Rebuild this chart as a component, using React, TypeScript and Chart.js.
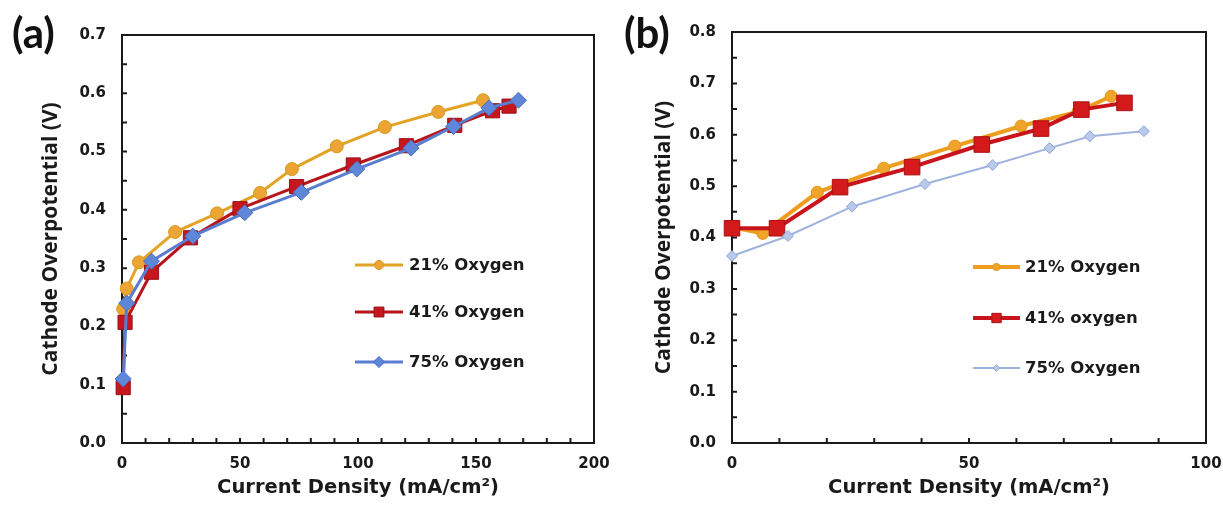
import React, { useEffect, useRef } from 'react';
import { Chart, registerables } from 'chart.js';
import { drawPoint } from 'chart.js/helpers';

Chart.register(...registerables);

// ---------- Panel (a) data ----------
const aXMax = 200;
const aYMax = 0.7;
const a21X = [0.5, 2, 7.2, 22.5, 40.3, 58.5, 72, 91, 111.4, 134, 153];
const a21Y = [0.23, 0.265, 0.31, 0.362, 0.394, 0.429, 0.47, 0.509, 0.542, 0.568, 0.588];
const a41X = [0.5, 1.3, 12.5, 29, 50, 74, 98, 120.5, 141, 157, 164];
const a41Y = [0.095, 0.207, 0.293, 0.352, 0.402, 0.44, 0.477, 0.51, 0.545, 0.57, 0.578];
const a75X = [0.5, 2, 12.5, 30, 52, 76, 99.5, 122.5, 140.5, 155.5, 168];
const a75Y = [0.11, 0.24, 0.312, 0.355, 0.395, 0.43, 0.47, 0.506, 0.543, 0.575, 0.588];
const aLabels = ['21% Oxygen', '41% Oxygen', '75% Oxygen'];

// ---------- Panel (b) data ----------
const bXMax = 100;
const bYMax = 0.8;
const b21X = [0, 6.5, 18, 32, 47, 61, 73, 80];
const b21Y = [0.42, 0.408, 0.488, 0.535, 0.578, 0.617, 0.645, 0.675];
const b41X = [0, 9.5, 22.8, 38, 52.7, 65.2, 73.7, 82.8];
const b41Y = [0.418, 0.418, 0.498, 0.537, 0.581, 0.612, 0.649, 0.662];
const b75X = [0, 11.8, 25.3, 40.7, 55, 67, 75.5, 86.9];
const b75Y = [0.364, 0.403, 0.46, 0.504, 0.541, 0.574, 0.597, 0.607];
const bLabels = ['21% Oxygen', '41% oxygen', '75% Oxygen'];

const xTitle = 'Current Density (mA/cm²)';
const yTitle = 'Cathode Overpotential (V)';

const TICK_FONT = { family: '"DejaVu Sans", sans-serif', size: 15, weight: 'bold' as const };
const XTITLE_FONT = { family: '"DejaVu Sans", sans-serif', size: 19.5, weight: 'bold' as const };
const YTITLE_FONT = { family: '"Open Sans", sans-serif', size: 21, weight: 'bold' as const };
const INK = '#1a1a1a';

const frameTicks = {
  id: 'frameTicks',
  beforeDatasetsDraw(chart: any) {
    const { ctx, chartArea: a, scales } = chart;
    ctx.save();
    ctx.strokeStyle = INK;
    ctx.lineWidth = 2;
    ctx.strokeRect(a.left, a.top, a.right - a.left, a.bottom - a.top);
    ctx.lineWidth = 2;
    ctx.beginPath();
    scales.x.ticks.forEach((t: any) => {
      const px = scales.x.getPixelForValue(t.value);
      if (px <= a.left + 1 || px >= a.right - 1) return;
      ctx.moveTo(px, a.bottom);
      ctx.lineTo(px, a.bottom - 5);
    });
    scales.y.ticks.forEach((t: any) => {
      const py = scales.y.getPixelForValue(t.value);
      if (py >= a.bottom - 1 || py <= a.top + 1) return;
      ctx.moveTo(a.left, py);
      ctx.lineTo(a.left + 5, py);
    });
    ctx.stroke();
    ctx.restore();
  },
};

const customLegend = {
  id: 'customLegend',
  afterDraw(chart: any, _args: any, opts: any) {
    const { ctx } = chart;
    ctx.save();
    chart.data.datasets.forEach((ds: any, i: number) => {
      const y = opts.ys[i];
      ctx.strokeStyle = ds.borderColor;
      ctx.lineWidth = ds.borderWidth;
      ctx.beginPath();
      ctx.moveTo(opts.x1, y);
      ctx.lineTo(opts.x2, y);
      ctx.stroke();
      ctx.fillStyle = ds.pointBackgroundColor;
      ctx.strokeStyle = ds.pointBorderColor;
      ctx.lineWidth = 1;
      drawPoint(ctx, { pointStyle: ds.pointStyle, radius: ds.pointRadius * opts.scale, borderWidth: 1, rotation: 0 } as any, (opts.x1 + opts.x2) / 2, y);
      ctx.fillStyle = INK;
      ctx.font = 'bold 16.5px "DejaVu Sans", sans-serif';
      ctx.textBaseline = 'middle';
      ctx.textAlign = 'left';
      ctx.fillText(ds.label, opts.textX, y + 1);
    });
    ctx.restore();
  },
};

type Series = {
  label: string; x: number[]; y: number[]; line: string; fill: string; pb: string;
  lw: number; style: string; r: number; order: number;
};

type Panel = {
  series: Series[]; xMax: number; yMax: number; top: number; right: number; yWidth: number;
  yTitlePad: number; legend: any;
};

function build(canvas: HTMLCanvasElement, p: Panel) {
  const datasets = p.series.map((s) => ({
    label: s.label,
    data: s.x.map((x, j) => ({ x, y: s.y[j] })),
    borderColor: s.line,
    backgroundColor: s.fill,
    borderWidth: s.lw,
    pointStyle: s.style,
    pointRadius: s.r,
    pointBackgroundColor: s.fill,
    pointBorderColor: s.pb,
    pointBorderWidth: 1,
    tension: 0,
    clip: false as any,
    order: s.order,
  }));
  return new Chart(canvas, {
    type: 'line',
    data: { datasets },
    options: {
      animation: false,
      responsive: false,
      devicePixelRatio: 1,
      layout: { padding: { left: 0, top: p.top, right: p.right, bottom: 0 } },
      plugins: {
        legend: { display: false },
        tooltip: { enabled: false },
        customLegend: p.legend,
      } as any,
      scales: {
        x: {
          type: 'linear',
          min: 0,
          max: p.xMax,
          grid: { display: false, drawTicks: false },
          border: { display: false },
          ticks: {
            stepSize: 10,
            autoSkip: false,
            maxRotation: 0,
            padding: 12,
            color: INK,
            font: TICK_FONT,
            callback: (v: any) => (Math.round(v) % 50 === 0 ? String(Math.round(v)) : ''),
          },
          title: { display: true, text: xTitle, color: INK, font: XTITLE_FONT, padding: { top: 0, bottom: 6 } },
          afterFit: (s: any) => { s.height = 63; s.paddingLeft = 0; s.paddingRight = 0; },
        },
        y: {
          type: 'linear',
          min: 0,
          max: p.yMax,
          grid: { display: false, drawTicks: false },
          border: { display: false },
          ticks: {
            stepSize: 0.05,
            autoSkip: false,
            padding: 16,
            color: INK,
            font: TICK_FONT,
            callback: (v: any) => (Math.round(v * 100) % 10 === 0 ? Number(v).toFixed(1) : ''),
          },
          title: { display: true, text: yTitle, color: INK, font: YTITLE_FONT, padding: { top: p.yTitlePad, bottom: 0 } },
          afterFit: (s: any) => { s.width = p.yWidth; s.paddingTop = 0; s.paddingBottom = 0; },
        },
      },
    } as any,
    plugins: [frameTicks, customLegend],
  });
}

const panelA: Panel = {
  xMax: aXMax, yMax: aYMax, top: 35, right: 18, yWidth: 122, yTitlePad: 38,
  legend: { x1: 355, x2: 403, textX: 409, ys: [265, 312, 362], scale: 0.7 },
  series: [
    { label: aLabels[0], x: a21X, y: a21Y, line: '#E3A325', fill: '#ECA534', pb: '#D49A22', lw: 3, style: 'circle', r: 6.5, order: 3 },
    { label: aLabels[1], x: a41X, y: a41Y, line: '#B8141C', fill: '#C6161E', pb: '#9A1016', lw: 3, style: 'rect', r: 10, order: 2 },
    { label: aLabels[2], x: a75X, y: a75Y, line: '#5A7ECF', fill: '#5E87DA', pb: '#4B6EC0', lw: 3, style: 'rectRot', r: 8, order: 1 },
  ],
};

const panelB: Panel = {
  xMax: bXMax, yMax: bYMax, top: 32, right: 17, yWidth: 120, yTitlePad: 39,
  legend: { x1: 361, x2: 408, textX: 413, ys: [267, 318, 368], scale: 0.6 },
  series: [
    { label: bLabels[0], x: b21X, y: b21Y, line: '#EE9E1E', fill: '#F0A42A', pb: '#E0961A', lw: 4, style: 'circle', r: 6, order: 3 },
    { label: bLabels[1], x: b41X, y: b41Y, line: '#C8141A', fill: '#D41A1A', pb: '#A81014', lw: 4, style: 'rect', r: 11, order: 2 },
    { label: bLabels[2], x: b75X, y: b75Y, line: '#9FB3DE', fill: '#B9C9EC', pb: '#8FA6D6', lw: 2, style: 'rectRot', r: 5.5, order: 1 },
  ],
};

export default function App() {
  const refA = useRef<HTMLCanvasElement>(null);
  const refB = useRef<HTMLCanvasElement>(null);
  useEffect(() => {
    const cA = build(refA.current!, panelA);
    const cB = build(refB.current!, panelB);
    return () => { cA.destroy(); cB.destroy(); };
  }, []);
  const lab: React.CSSProperties = {
    position: 'absolute', top: 11, fontFamily: 'Lato, sans-serif', fontWeight: 700,
    fontSize: 42, lineHeight: 1, color: '#111',
  };
  return (
    <div style={{ position: 'fixed', left: 0, top: 0, width: 1223, height: 506, background: '#fff', overflow: 'hidden' }}>
      <canvas ref={refA} width={612} height={506} style={{ position: 'absolute', left: 0, top: 0 }} />
      <canvas ref={refB} width={611} height={506} style={{ position: 'absolute', left: 612, top: 0 }} />
      <div style={{ ...lab, left: 12 }}>(a)</div>
      <div style={{ ...lab, left: 624 }}>(b)</div>
    </div>
  );
}
